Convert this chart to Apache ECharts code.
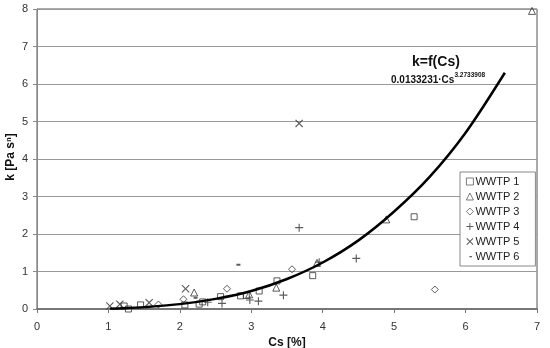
<!DOCTYPE html>
<html><head><meta charset="utf-8">
<script src="https://cdn.jsdelivr.net/npm/echarts@6/dist/echarts.min.js"></script>
<style>html,body{margin:0;padding:0;background:#fff}#c{width:550px;height:348px}</style>
</head><body><div id="c"></div>
<script>
var xTicks = [0,1,2,3,4,5,6,7];
var yTicks = [0,1,2,3,4,5,6,7,8];
var wwtp1 = [[1.22,0.08],[1.28,0.0],[1.45,0.11],[2.07,0.11],[2.27,0.13],[2.32,0.19],[2.57,0.33],[2.85,0.35],[2.93,0.36],[3.11,0.48],[3.36,0.75],[3.86,0.89],[5.28,2.46]];
var wwtp2 = [[2.20,0.44],[2.97,0.39],[3.35,0.57],[3.92,1.23],[4.89,2.39],[6.93,7.95]];
var wwtp3 = [[1.70,0.12],[2.05,0.26],[2.66,0.54],[3.57,1.06],[5.57,0.52]];
var wwtp4 = [[2.39,0.18],[2.59,0.15],[2.98,0.24],[3.10,0.21],[3.45,0.37],[3.67,2.17],[3.95,1.25],[4.47,1.35]];
var wwtp5 = [[1.02,0.08],[1.16,0.13],[1.57,0.17],[2.08,0.54],[3.67,4.95]];
var wwtp6 = [[2.22,0.30],[2.82,1.18]];
var fitCurve = [[1.02,0.01],[1.2,0.02],[1.5,0.05],[2.0,0.13],[2.5,0.27],[3.0,0.48],[3.5,0.80],[4.0,1.24],[4.5,1.83],[5.0,2.60],[5.5,3.53],[6.0,4.70],[6.55,6.30]];
var seriesNames = ['WWTP 1','WWTP 2','WWTP 3','WWTP 4','WWTP 5','WWTP 6'];
var xTitle = 'Cs [%]';
var yTitle = 'k [Pa s\u207F]';
var fitLabel = 'k=f(Cs)';
var fitFormulaBase = '0.0133231·Cs';
var fitFormulaExp = '3.2733908';

var FONT = '"Liberation Sans", Arial, sans-serif';
var plus = 'path://M4.3,0H5.7V4.3H10V5.7H5.7V10H4.3V5.7H0V4.3H4.3Z';
var cross = 'path://M0,1L1,0L5,4L9,0L10,1L6,5L10,9L9,10L5,6L1,10L0,9L4,5Z';
var dash = 'path://M0,0H10V5H0Z';
var legendDash = 'image://data:image/svg+xml;charset=utf-8,' + encodeURIComponent(
  '<svg xmlns="http://www.w3.org/2000/svg" width="14" height="14" viewBox="0 0 14 14"><rect x="6" y="6" width="5" height="2.6" fill="#333"/></svg>');
var hollow = {color:'rgba(255,255,255,0)', borderColor:'#333', borderWidth:1};
var solid = {color:'#333', borderWidth:0};
var styles = [
  {symbol:'rect', symbolSize:6, itemStyle:hollow},
  {symbol:'triangle', symbolSize:7, itemStyle:hollow},
  {symbol:'diamond', symbolSize:7, itemStyle:hollow},
  {symbol:plus, symbolSize:8, itemStyle:solid},
  {symbol:cross, symbolSize:8, itemStyle:solid},
  {symbol:dash, symbolSize:[4,2], itemStyle:solid}
];
var legendIcons = ['rect','triangle','diamond',plus,cross,legendDash];
var datas = [wwtp1,wwtp2,wwtp3,wwtp4,wwtp5,wwtp6];
var series = datas.map(function(d,i){
  return Object.assign({type:'scatter', name:seriesNames[i], data:d, z:3}, styles[i]);
});
series.push({type:'line', name:'fit', data:fitCurve, showSymbol:false, smooth:0.3,
  lineStyle:{color:'#000', width:2.5}, z:5, silent:true});

var chart = echarts.init(document.getElementById('c'), null, {renderer:'canvas'});
chart.setOption({
  animation:false,
  backgroundColor:'#fff',
  textStyle:{fontFamily:FONT},
  grid:{left:37, top:9, right:13, bottom:39, show:true, borderColor:'#555', borderWidth:1,
    containLabel:false, outerBoundsMode:'none'},
  legend:{
    data:seriesNames.map(function(n,i){
      var st = (i<3) ? {color:'rgba(255,255,255,0)', borderColor:'#333', borderWidth:0.8}
                     : {color:'#333', borderWidth:0};
      return {name:n, icon:legendIcons[i], itemStyle:st};
    }),
    orient:'vertical', left:460, top:172, width:77,
    itemWidth:7, itemHeight:7, itemGap:4,
    backgroundColor:'#fff', borderColor:'#888', borderWidth:1,
    padding:[4,16,4,6],
    textStyle:{fontFamily:FONT, fontSize:11, color:'#222', padding:[0,0,0,-3]}
  },
  xAxis:{type:'value', min:0, max:7, interval:1,
    name:xTitle, nameLocation:'middle', nameGap:25,
    nameTextStyle:{fontFamily:FONT, fontWeight:'bold', fontSize:12, color:'#111'},
    axisLine:{show:true, lineStyle:{color:'#777', width:2}},
    axisTick:{show:true, length:4, lineStyle:{color:'#777'}},
    axisLabel:{fontFamily:FONT, fontSize:11, color:'#333', margin:12,
      formatter:function(v){return xTicks.indexOf(v)>=0?String(v):'';}},
    splitLine:{show:false}
  },
  yAxis:{type:'value', min:0, max:8, interval:1,
    axisLine:{show:true, lineStyle:{color:'#888', width:1}},
    axisTick:{show:true, length:4, lineStyle:{color:'#888'}},
    axisLabel:{fontFamily:FONT, fontSize:11, color:'#333', margin:9,
      formatter:function(v){return yTicks.indexOf(v)>=0?String(v):'';}},
    splitLine:{show:true, lineStyle:{color:'#999', width:1}}
  },
  graphic:[
    {type:'text', x:11, y:157, rotation:Math.PI/2, z:10,
      style:{text:yTitle, font:'bold 12px '+FONT, fill:'#111', align:'center', verticalAlign:'middle'}},
    {type:'text', left:412, top:55, z:10,
      style:{text:fitLabel, font:'bold 14px '+FONT, fill:'#111'}},
    {type:'text', left:391, top:72, z:10,
      style:{text:'{b|'+fitFormulaBase+'}{e|'+fitFormulaExp+'}', fill:'#111',
        rich:{b:{font:'bold 10px '+FONT, fill:'#111', verticalAlign:'bottom'},
              e:{font:'bold 6.5px '+FONT, fill:'#111', verticalAlign:'top', padding:[0,0,6,0]}}}}
  ],
  series:series
});
</script></body></html>
